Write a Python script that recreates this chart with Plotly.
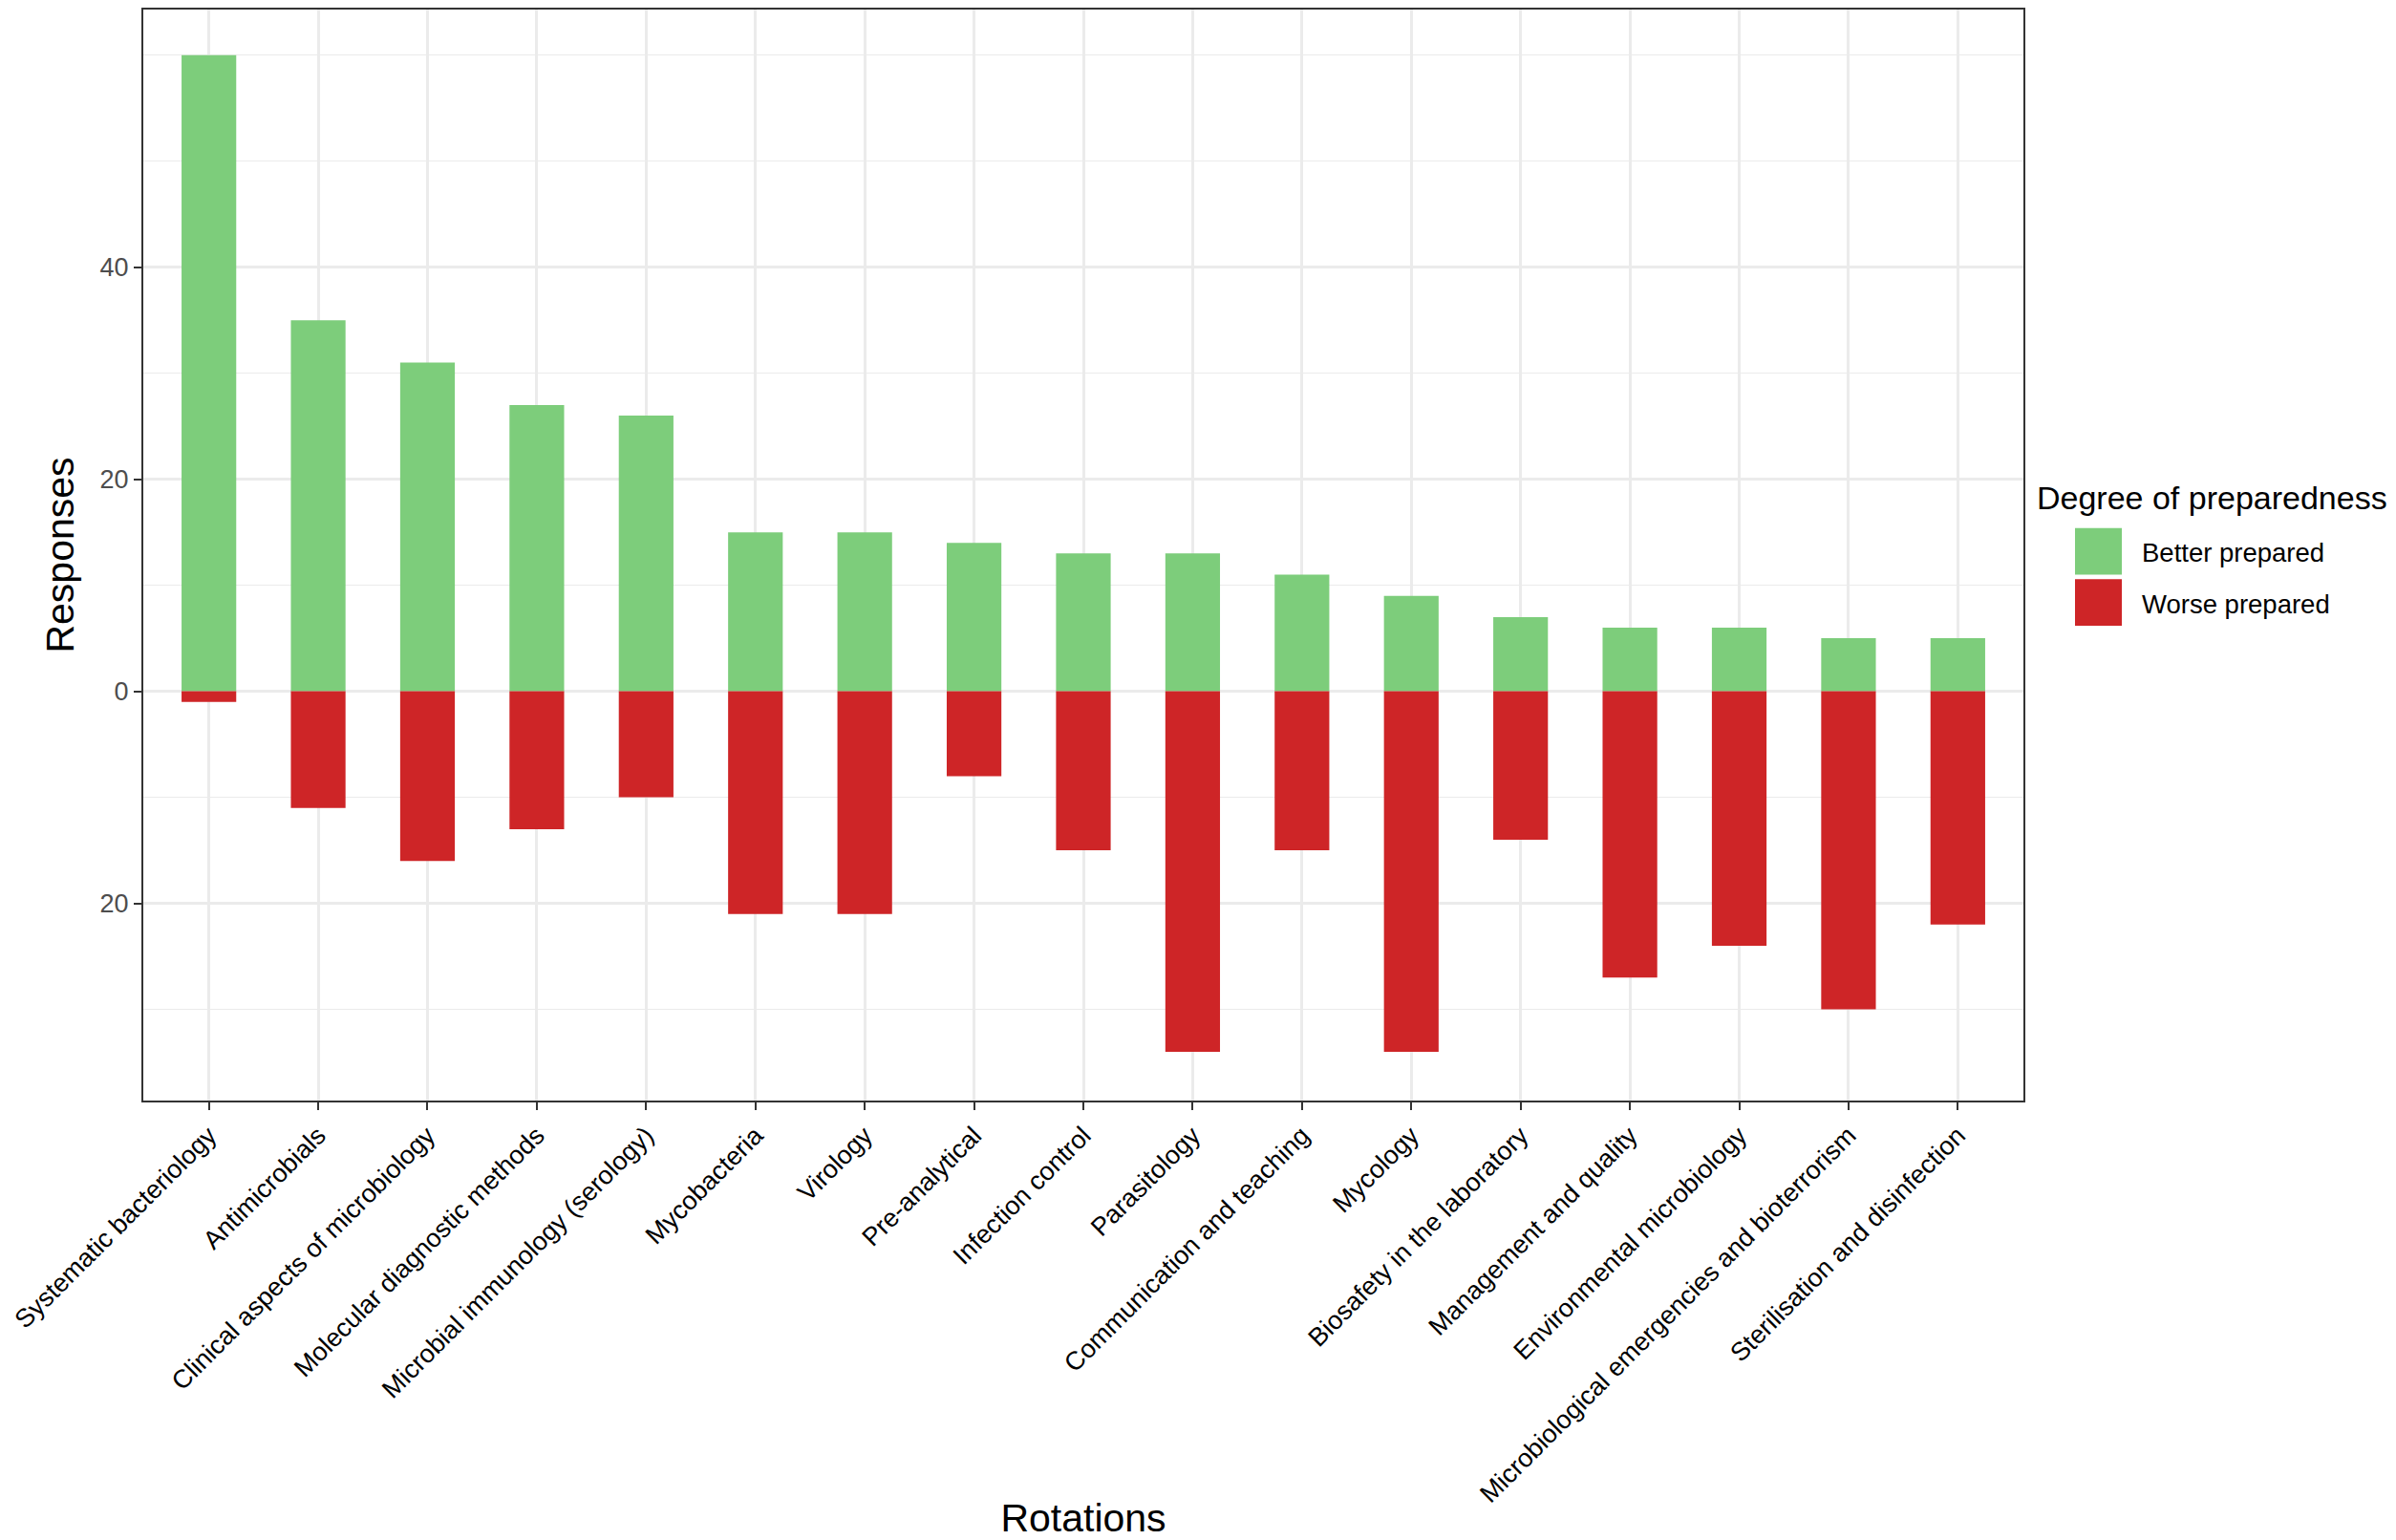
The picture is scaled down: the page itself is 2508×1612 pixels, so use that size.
import plotly.graph_objects as go

rotations = [
    "Systematic bacteriology", "Antimicrobials", "Clinical aspects of microbiology",
    "Molecular diagnostic methods", "Microbial immunology (serology)", "Mycobacteria",
    "Virology", "Pre-analytical", "Infection control", "Parasitology",
    "Communication and teaching", "Mycology", "Biosafety in the laboratory",
    "Management and quality", "Environmental microbiology",
    "Microbiological emergencies and bioterrorism", "Sterilisation and disinfection",
]
better_prepared = [60, 35, 31, 27, 26, 15, 15, 14, 13, 13, 11, 9, 7, 6, 6, 5, 5]
worse_prepared = [1, 11, 16, 13, 10, 21, 21, 8, 15, 34, 15, 34, 14, 27, 24, 30, 22]

y_tickvals = [-20, 0, 20, 40]
y_ticktext = ["20", "0", "20", "40"]
y_minor = [-30, -10, 10, 30, 50, 60]

series_names = ["Better prepared", "Worse prepared"]
GREEN = "#7DCD7B"
RED = "#CE2527"

OFF = 8  # default body margin of the html page
W, H = 2500, 1604
ML, MR, MT, MB = 142, 390, 0, 455
PW, PH = W - ML - MR, H - MT - MB

fig = go.Figure()
fig.add_trace(go.Bar(x=rotations, y=better_prepared, name=series_names[0],
                     marker=dict(color=GREEN, line=dict(width=0)), width=0.5,
                     showlegend=False))
fig.add_trace(go.Bar(x=rotations, y=[-v for v in worse_prepared], name=series_names[1],
                     marker=dict(color=RED, line=dict(width=0)), width=0.5,
                     showlegend=False))

def px(x):
    return (x - (OFF + ML)) / PW

def py(y):
    return ((OFF + H - MB) - y) / PH

# manual legend (ggplot-style large keys)
shapes = []
annotations = [
    dict(text="Degree of preparedness", x=px(2130), y=py(522), xref="paper", yref="paper",
         xanchor="left", yanchor="middle", showarrow=False,
         font=dict(size=34, color="black", family="Liberation Sans")),
]
for i, (nm, col) in enumerate(zip(series_names, [GREEN, RED])):
    y0 = 554 + i * 54
    shapes.append(dict(type="rect", xref="paper", yref="paper",
                       x0=px(2172), x1=px(2221), y0=py(y0), y1=py(y0 + 49),
                       fillcolor=col, line=dict(width=0)))
    annotations.append(dict(text=nm, x=px(2240), y=py(y0 + 26), xref="paper", yref="paper",
                            xanchor="left", yanchor="middle", showarrow=False,
                            font=dict(size=27.5, color="black", family="Liberation Sans")))

fig.update_layout(
    width=W, height=H,
    margin=dict(l=ML, r=MR, t=MT, b=MB),
    barmode="relative",
    plot_bgcolor="white", paper_bgcolor="white",
    font=dict(family="Liberation Sans", color="black"),
    shapes=shapes, annotations=annotations,
    showlegend=False,
)
fig.update_xaxes(
    range=[-0.6, 16.6], tickangle=-45,
    showgrid=True, gridcolor="#EBEBEB", gridwidth=2.5,
    showline=True, linecolor="#333333", linewidth=2, mirror=True,
    ticks="outside", ticklen=8, tickwidth=2, tickcolor="#333333",
    tickfont=dict(size=27, color="black", family="Liberation Sans"),
    title=dict(text="Rotations", font=dict(size=41, color="black", family="Liberation Sans"),
               standoff=4),
    zeroline=False,
)
fig.update_yaxes(
    range=[-38.6, 64.3],
    tickvals=y_tickvals, ticktext=y_ticktext,
    showgrid=True, gridcolor="#EBEBEB", gridwidth=2.5,
    minor=dict(tickvals=y_minor, showgrid=True, gridcolor="#EBEBEB", gridwidth=1.3, ticks=""),
    showline=True, linecolor="#333333", linewidth=2, mirror=True,
    ticks="outside", ticklen=8, tickwidth=2, tickcolor="#333333",
    tickfont=dict(size=27, color="#4D4D4D", family="Liberation Sans"),
    title=dict(text="Responses", font=dict(size=41, color="black", family="Liberation Sans"),
               standoff=14),
    zeroline=False,
)

fig.write_html("out.html")
